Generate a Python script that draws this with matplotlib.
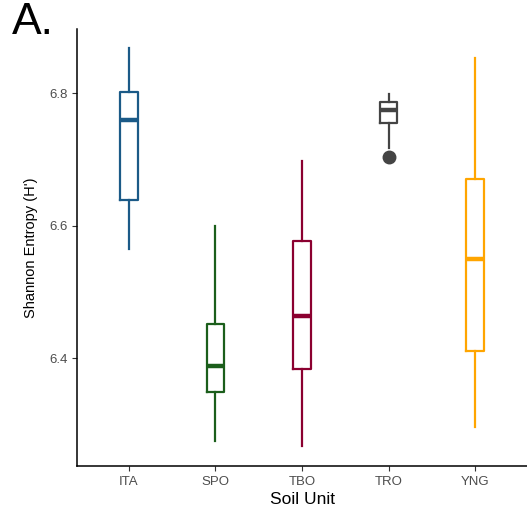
import matplotlib
matplotlib.use("Agg")
import matplotlib.pyplot as plt

plt.rcParams["font.family"] = ["Liberation Sans", "DejaVu Sans"]

units = ["ITA", "SPO", "TBO", "TRO", "YNG"]
colors = ["#1b5a87", "#1b5e1b", "#8b0030", "#444444", "#ffa500"]
whisker_low = [6.565, 6.275, 6.267, 6.717, 6.296]
q1 = [6.638, 6.349, 6.383, 6.754, 6.411]
median = [6.759, 6.388, 6.464, 6.775, 6.549]
q3 = [6.802, 6.451, 6.576, 6.786, 6.670]
whisker_high = [6.868, 6.599, 6.697, 6.798, 6.853]
outliers = [[], [], [], [6.703], []]

fig = plt.figure(figsize=(5.27, 5.21), dpi=100)
ax = fig.add_axes([0.1461, 0.1056, 0.854, 0.8387])

for i, name in enumerate(units):
    stats = [{
        "whislo": whisker_low[i], "q1": q1[i], "med": median[i],
        "q3": q3[i], "whishi": whisker_high[i], "fliers": outliers[i],
        "label": name,
    }]
    c = colors[i]
    ax.bxp(stats, positions=[i + 1], widths=0.2, showcaps=False,
           boxprops=dict(color=c, linewidth=1.6),
           whiskerprops=dict(color=c, linewidth=1.6),
           medianprops=dict(color=c, linewidth=3.2, solid_capstyle="butt"),
           flierprops=dict(marker="o", markerfacecolor=c, markeredgecolor=c,
                           markersize=9))

ax.set_xlim(0.4, 5.6)
ax.set_ylim(6.237, 6.8966)
ax.set_xticks(range(1, 6))
ax.set_xticklabels(units)
ax.set_yticks([6.4, 6.6, 6.8])
ax.set_yticklabels(["6.4", "6.6", "6.8"])
ax.tick_params(colors="#333333", labelcolor="#4d4d4d", labelsize=9.5,
               length=3.5, width=0.8)

for s in ["top", "right"]:
    ax.spines[s].set_visible(False)
for s in ["left", "bottom"]:
    ax.spines[s].set_linewidth(1.1)
    ax.spines[s].set_color("black")

ax.set_xlabel("Soil Unit", fontsize=12.5, labelpad=3)
ax.set_ylabel("Shannon Entropy (H')", fontsize=10.5, labelpad=8)

fig.text(0.022, 0.935, "A.", fontsize=32, va="baseline", ha="left")

fig.savefig("out.png", dpi=100)
